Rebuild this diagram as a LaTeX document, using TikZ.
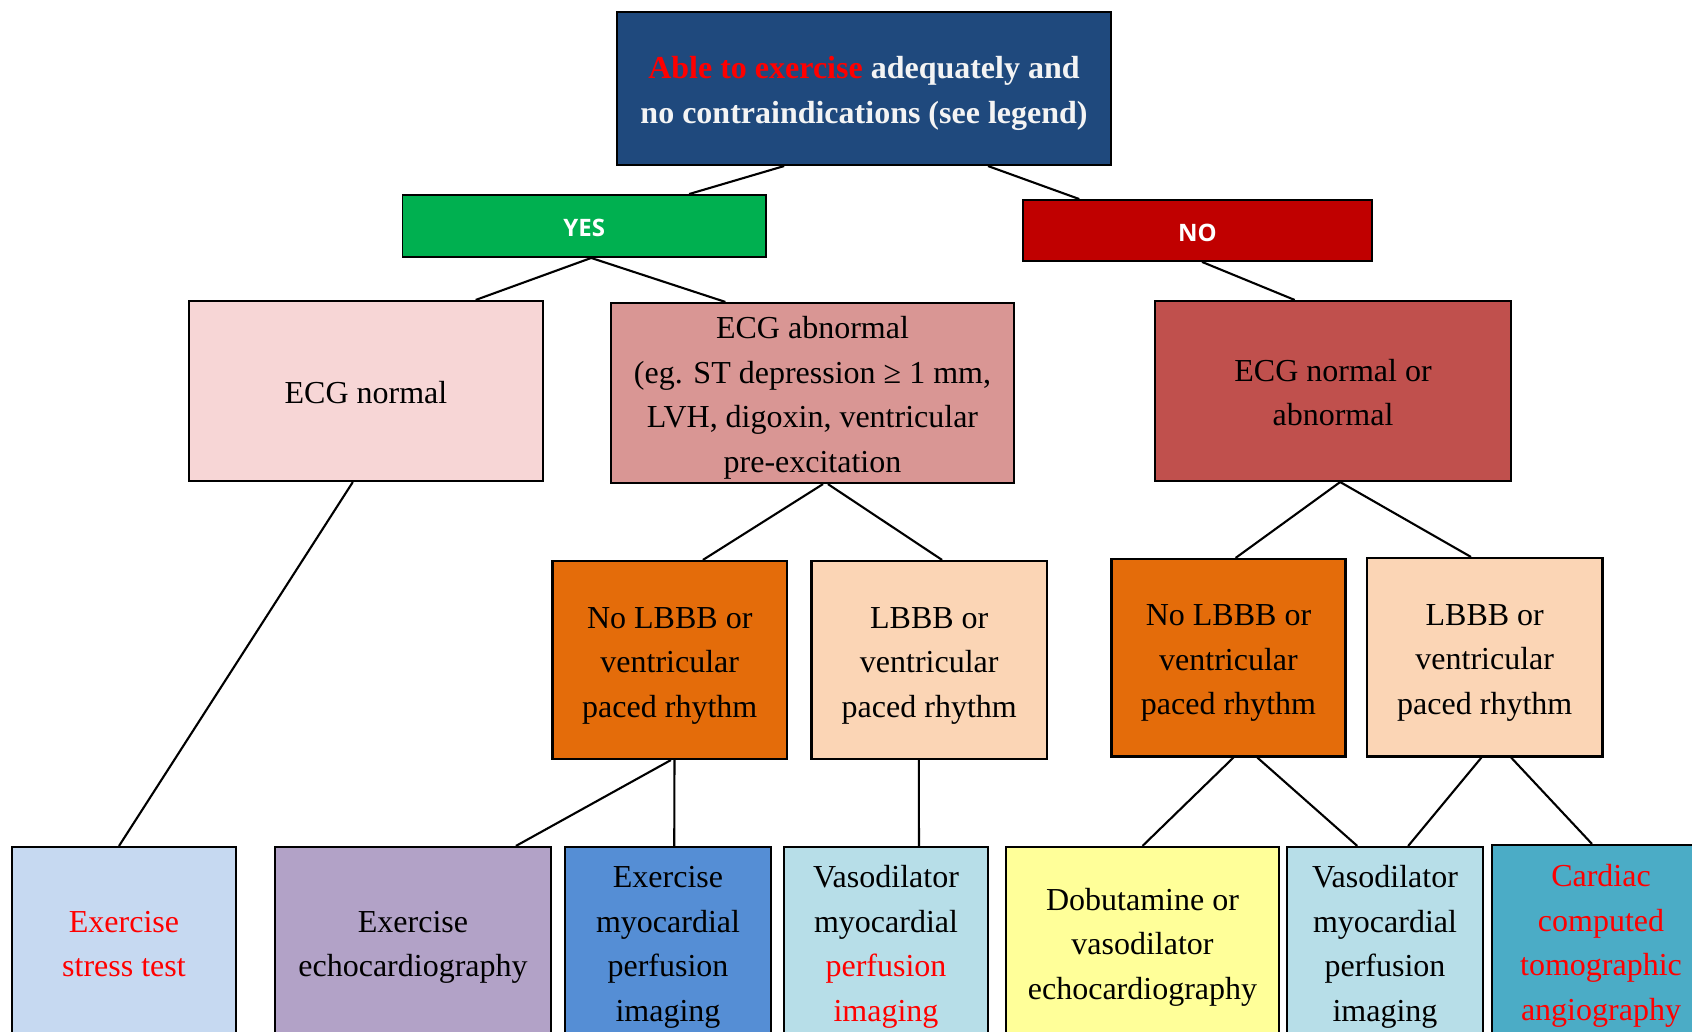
\documentclass[tikz,border=0pt]{standalone}
\usepackage{fontspec}
\setmainfont{Liberation Serif}
\newfontfamily\labelfont{Open Sans}
\usetikzlibrary{calc}

\definecolor{topblue}{HTML}{1F497D}
\definecolor{yesgreen}{HTML}{00B050}
\definecolor{nored}{HTML}{C00000}
\definecolor{ecgnormal}{HTML}{F7D6D6}
\definecolor{ecgabn}{HTML}{D99694}
\definecolor{ecgboth}{HTML}{C0504D}
\definecolor{orangebox}{HTML}{E46C0A}
\definecolor{peachbox}{HTML}{FBD5B5}
\definecolor{stressblue}{HTML}{C6D9F1}
\definecolor{echopurple}{HTML}{B2A2C7}
\definecolor{mpiblue}{HTML}{558ED5}
\definecolor{vasoblue}{HTML}{B7DEE8}
\definecolor{dobuyellow}{HTML}{FFFF99}
\definecolor{ctteal}{HTML}{4BACC6}
\definecolor{hl}{HTML}{FF0000}
\definecolor{offwhite}{HTML}{F4F4F4}

% centred block of lines, every line the same strut height, set slightly low
% (the box keeps its natural size, so the node still centres the unshifted block)
\newcommand{\boxlines}[1]{\raisebox{-3.6pt}[\height][\depth]{\begin{tabular}{@{}c@{}}#1\end{tabular}}}

\tikzset{
  box/.style={draw=black, line width=2.1pt, inner sep=0pt,
    font=\fontsize{32}{44.5}\selectfont},
  answer/.style={draw=black, line width=1.9pt, inner sep=0pt, align=center,
    text=white, font=\labelfont\bfseries\fontsize{24}{28}\selectfont,
    execute at begin node={\rule{0pt}{26pt}},
    execute at end node={\rule[-4.6pt]{0pt}{4.6pt}}},
  link/.style={draw=black, line width=2.1pt}
}

% connector from a point on the lower edge of #1 to a point on the upper edge of #3
\newcommand{\linkboxes}[4]{%
  \draw[link] ($(#1.south west)!#2!(#1.south east)$) -- ($(#3.north west)!#4!(#3.north east)$);}

\begin{document}
\begin{tikzpicture}[x=1pt,y=-1pt]
\useasboundingbox (0,0) rectangle (1692,1032);
\clip (0,0) rectangle (1692,1032);

% question
\node[box, fill=topblue, text=offwhite, font=\bfseries\fontsize{32}{44.5}\selectfont,
  minimum width=494pt, minimum height=153pt] (top) at (864,88.5)
  {\boxlines{{\color{hl}Able to exercise} adequately and\\no contraindications (see legend)}};

% answers
\node[answer, fill=yesgreen, minimum width=363.5pt, minimum height=62pt] (yes) at (584.25,226) {YES};
\node[answer, fill=nored, minimum width=349pt, minimum height=61pt] (no) at (1197.5,230.5) {NO};

% ECG level
\node[box, fill=ecgnormal, minimum width=354pt, minimum height=180pt] (ecgn) at (366,391)
  {\boxlines{ECG normal}};
\node[box, fill=ecgabn, minimum width=403pt, minimum height=180pt] (ecga) at (812.5,393)
  {\boxlines{ECG abnormal\\(eg. ST depression ≥ 1 mm,\\LVH, digoxin, ventricular\\pre-excitation}};
\node[box, fill=ecgboth, minimum width=356pt, minimum height=180pt] (ecgb) at (1333,391)
  {\boxlines{ECG normal or\\abnormal}};

% rhythm level
\node[box, fill=orangebox, minimum width=234.5pt, minimum height=198pt] (nolbl) at (669.75,660)
  {\boxlines{No LBBB or\\ventricular\\paced rhythm}};
\node[box, fill=peachbox, minimum width=235.5pt, minimum height=198pt] (lbl) at (929.25,660)
  {\boxlines{LBBB or\\ventricular\\paced rhythm}};
\node[box, fill=orangebox, minimum width=234pt, minimum height=197.5pt] (nolbr) at (1228.5,657.75)
  {\boxlines{No LBBB or\\ventricular\\paced rhythm}};
\node[box, fill=peachbox, minimum width=235.5pt, minimum height=198.5pt] (lbr) at (1484.75,657.25)
  {\boxlines{LBBB or\\ventricular\\paced rhythm}};

% tests
\node[box, fill=stressblue, text=hl, minimum width=224pt, minimum height=190pt] (stress) at (124,942)
  {\boxlines{Exercise\\stress test}};
\node[box, fill=echopurple, minimum width=276pt, minimum height=190pt] (echo) at (413,942)
  {\boxlines{Exercise\\echocardiography}};
\node[box, fill=mpiblue, minimum width=206pt, minimum height=190pt] (exmpi) at (668,942)
  {\boxlines{Exercise\\myocardial\\perfusion\\imaging}};
\node[box, fill=vasoblue, minimum width=204pt, minimum height=190pt] (vasol) at (886,942)
  {\boxlines{Vasodilator\\myocardial\\{\color{hl}perfusion}\\{\color{hl}imaging}}};
\node[box, fill=dobuyellow, minimum width=273pt, minimum height=190pt] (dobu) at (1142.5,942)
  {\boxlines{Dobutamine or\\vasodilator\\echocardiography}};
\node[box, fill=vasoblue, minimum width=196pt, minimum height=190pt] (vasor) at (1385,942)
  {\boxlines{Vasodilator\\myocardial\\perfusion\\imaging}};
\node[box, fill=ctteal, text=hl, minimum width=218pt, minimum height=192pt] (ccta) at (1601,941)
  {\boxlines{Cardiac\\computed\\tomographic\\angiography}};

% connectors
\linkboxes{top}{0.339}{yes}{0.787}
\linkboxes{top}{0.75}{no}{0.163}
\linkboxes{yes}{0.519}{ecgn}{0.808}
\linkboxes{yes}{0.519}{ecga}{0.285}
\linkboxes{no}{0.513}{ecgb}{0.393}
\linkboxes{ecgn}{0.463}{stress}{0.478}
\linkboxes{ecga}{0.526}{nolbl}{0.64}
\linkboxes{ecga}{0.538}{lbl}{0.554}
\linkboxes{ecgb}{0.52}{nolbr}{0.53}
\linkboxes{ecgb}{0.52}{lbr}{0.442}
\linkboxes{nolbl}{0.505}{echo}{0.87}
\linkboxes{nolbl}{0.52}{exmpi}{0.53}
\linkboxes{lbl}{0.456}{vasol}{0.66}
\linkboxes{nolbr}{0.521}{dobu}{0.50}
\linkboxes{nolbr}{0.622}{vasor}{0.36}
\linkboxes{lbr}{0.486}{vasor}{0.617}
\linkboxes{lbr}{0.611}{ccta}{0.459}
\end{tikzpicture}
\end{document}
